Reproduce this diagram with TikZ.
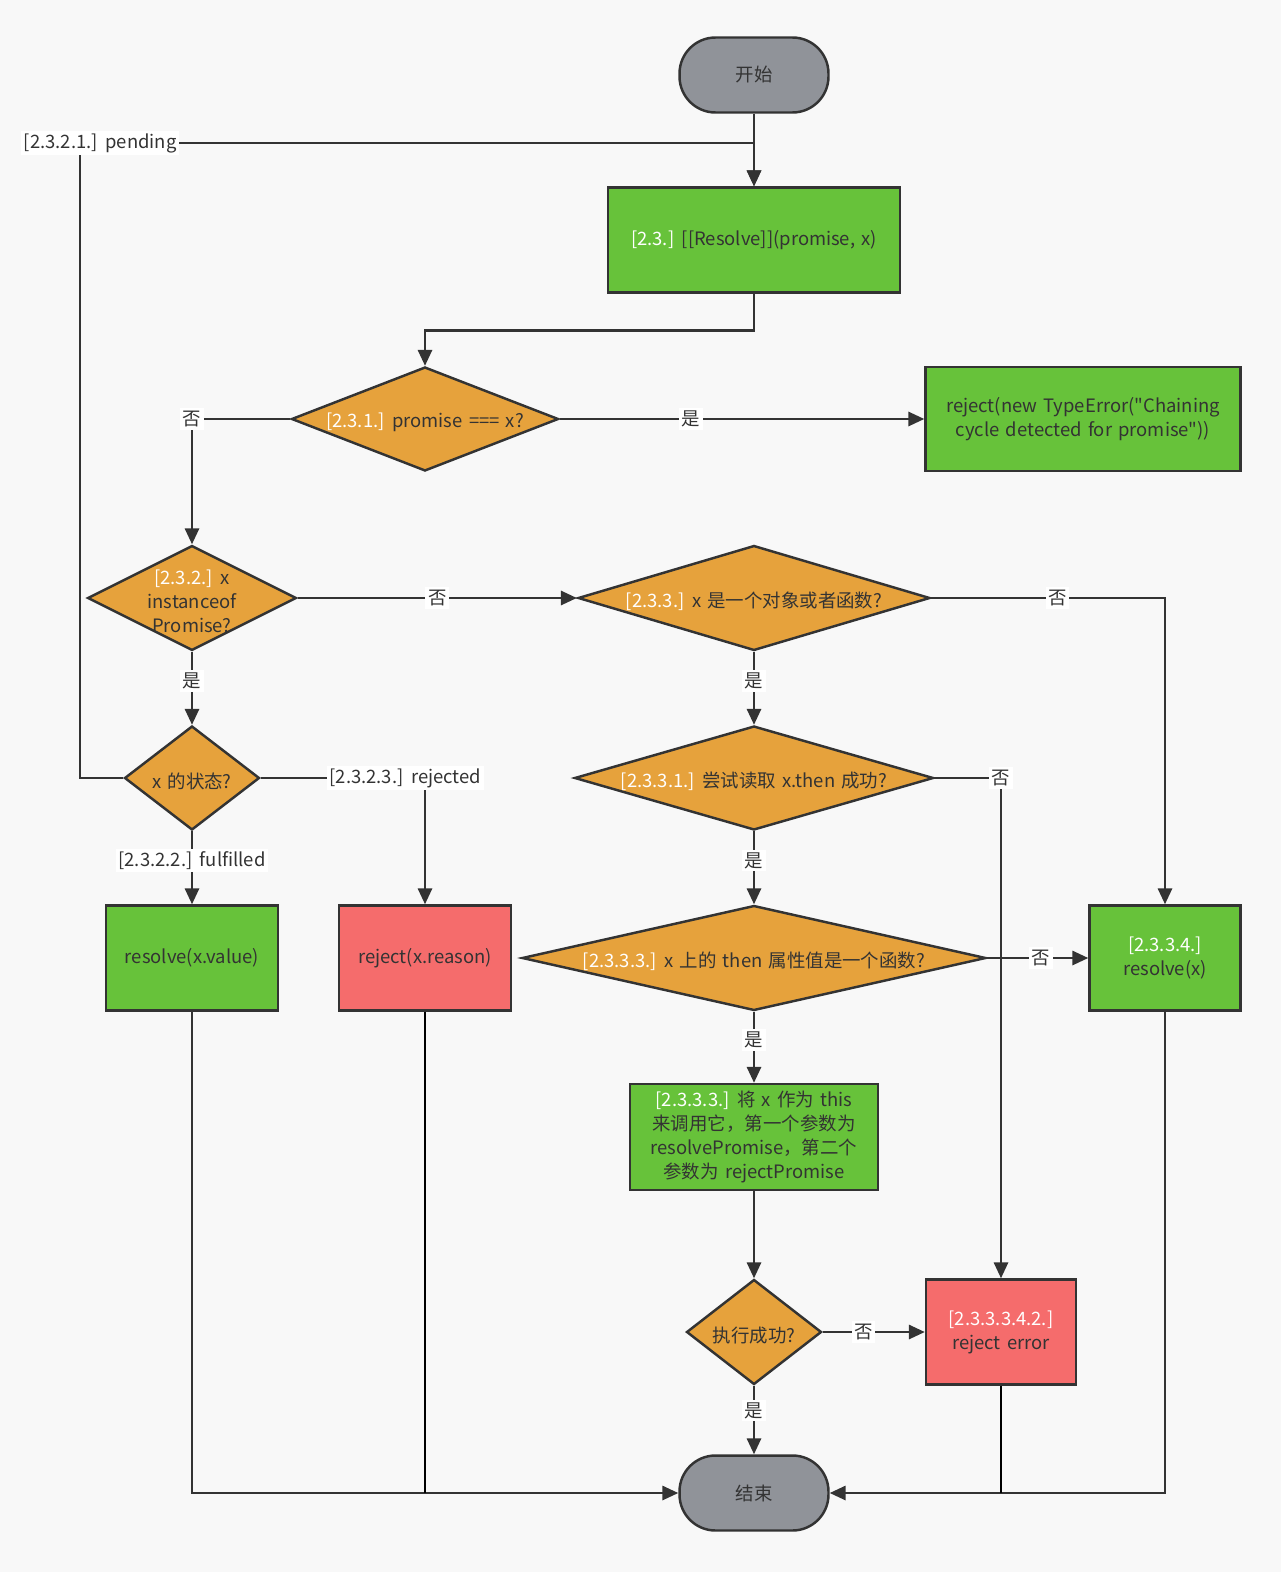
\documentclass[tikz,border=0pt]{standalone}
\usepackage{fontspec}
\setmainfont[WordSpace=1.5]{Noto Sans CJK SC}
\usetikzlibrary{shapes.geometric}
\usetikzlibrary{arrows.meta}
\definecolor{bg}{HTML}{F8F8F8}
\definecolor{edge}{HTML}{333333}
\definecolor{termgray}{HTML}{909399}
\definecolor{okgreen}{HTML}{67C23A}
\definecolor{decorange}{HTML}{E6A23C}
\definecolor{errred}{HTML}{F56C6C}
\newcommand{\stepno}[1]{\textcolor{white}{#1}}

\begin{document}
\begin{tikzpicture}[x=0.02cm, y=-0.02cm, line width=1.4pt,
    font=\fontsize{10.5}{13.7}\selectfont, every node/.append style={text=edge},
    every label/.append style={yshift=-2pt},
    term/.style={rectangle, rounded corners=0.72cm, draw=edge, fill=termgray, minimum width=2.98cm, minimum height=1.5cm},
    proc/.style={rectangle, draw=edge, fill=okgreen, align=center, inner sep=2pt},
    fail/.style={proc, fill=errred},
    dec/.style={diamond, draw=edge, fill=decorange, inner sep=0pt},
    arr/.style={draw=edge, -{Triangle[length=9pt, width=8pt]}},
    lbl/.style={fill=white, inner sep=1.5pt}]
    \useasboundingbox (0,0) rectangle (1281,1572);
    \fill[bg] (0,0) rectangle (1281,1572);
    % nodes
    \node[term] (start) at (754,75) {开始};
    \node[proc, minimum width=5.84cm, minimum height=2.1cm] (resolve) at (754,240) {\stepno{[2.3.]} [[Resolve]](promise, x)};
    \node[dec, minimum width=5.34cm, minimum height=2.08cm, label={center:\stepno{[2.3.1.]} promise === x?}] (same) at (425,419) {};
    \node[proc, minimum width=6.3cm, minimum height=2.08cm] (cycle) at (1083,419) {reject(new TypeError(\textquotedbl Chaining\\cycle detected for promise\textquotedbl))};
    \node[dec, minimum width=4.18cm, minimum height=2.1cm, label={[align=center]center:\stepno{[2.3.2.]} x\\instanceof\\Promise?}] (isprom) at (192,598) {};
    \node[dec, minimum width=7.04cm, minimum height=2.1cm, label={center:\stepno{[2.3.3.]} x 是一个对象或者函数?}] (isobj) at (754,598) {};
    \node[dec, minimum width=2.7cm, minimum height=2.08cm, label={center:x 的状态?}] (state) at (192,778) {};
    \node[dec, minimum width=7.18cm, minimum height=2.08cm, label={center:\stepno{[2.3.3.1.]} 尝试读取 x.then 成功?}] (getthen) at (754,778) {};
    \node[proc, minimum width=3.44cm, minimum height=2.1cm] (value) at (192,958) {resolve(x.value)};
    \node[fail, minimum width=3.44cm, minimum height=2.1cm] (reason) at (425,958) {reject(x.reason)};
    \node[dec, minimum width=9.28cm, minimum height=2.1cm, label={center:\stepno{[2.3.3.3.]} x 上的 then 属性值是一个函数?}] (isfunc) at (754,958) {};
    \node[proc, minimum width=3.02cm, minimum height=2.1cm] (resx) at (1165,958) {\stepno{[2.3.3.4.]}\\resolve(x)};
    \node[proc, minimum width=4.96cm, minimum height=2.12cm] (call) at (754,1137) {\stepno{[2.3.3.3.]} 将 x 作为 this\\来调用它，第一个参数为\\resolvePromise，第二个\\参数为 rejectPromise};
    \node[dec, minimum width=2.7cm, minimum height=2.1cm, label={center:执行成功?}] (ok) at (754,1332) {};
    \node[fail, minimum width=3.0cm, minimum height=2.1cm] (error) at (1001,1332) {\stepno{[2.3.3.3.4.2.]}\\reject error};
    \node[term] (end) at (754,1493) {结束};
    \coordinate (pend) at (80,143);
    % connectors
    \draw[arr] (start) -- (resolve);
    \draw[arr] (state.west) -| (pend) -| node[lbl, pos=0.015] {[2.3.2.1.] pending} (resolve.north);
    \draw[arr] (resolve.south) -- ++(0,37) -| (same.north);
    \draw[arr] (same.east) -- node[lbl, pos=0.36] {是} (cycle.west);
    \draw[arr] (same.west) -| node[lbl, pos=0.5] {否} (isprom.north);
    \draw[arr] (isprom.east) -- node[lbl] {否} (isobj.west);
    \draw[arr] (isprom.south) -- node[lbl, pos=0.4] {是} (state.north);
    \draw[arr] (isobj.east) -| node[lbl, pos=0.27] {否} (resx.north);
    \draw[arr] (isobj.south) -- node[lbl, pos=0.4] {是} (getthen.north);
    \draw[arr] (state.east) -| node[lbl, pos=0.44] {[2.3.2.3.] rejected} (reason.north);
    \draw[arr] (state.south) -- node[lbl, pos=0.4] {[2.3.2.2.] fulfilled} (value.north);
    \draw[arr] (getthen.east) -| node[lbl, pos=0.5] {否} (error.north);
    \draw[arr] (getthen.south) -- node[lbl, pos=0.4] {是} (isfunc.north);
    \draw[arr] (isfunc.east) -- node[lbl, pos=0.53] {否} (resx.west);
    \draw[arr] (isfunc.south) -- node[lbl, pos=0.4] {是} (call.north);
    \draw[arr] (call) -- (ok);
    \draw[arr] (ok.east) -- node[lbl, pos=0.4] {否} (error.west);
    \draw[arr] (ok.south) -- node[lbl, pos=0.36] {是} (end.north);
    \draw[arr] (value.south) |- (end.west);
    \draw (reason.south) -- (reason.south |- end.west);
    \draw[arr] (resx.south) |- (end.east);
    \draw (error.south) -- (error.south |- end.east);
\end{tikzpicture}
\end{document}
